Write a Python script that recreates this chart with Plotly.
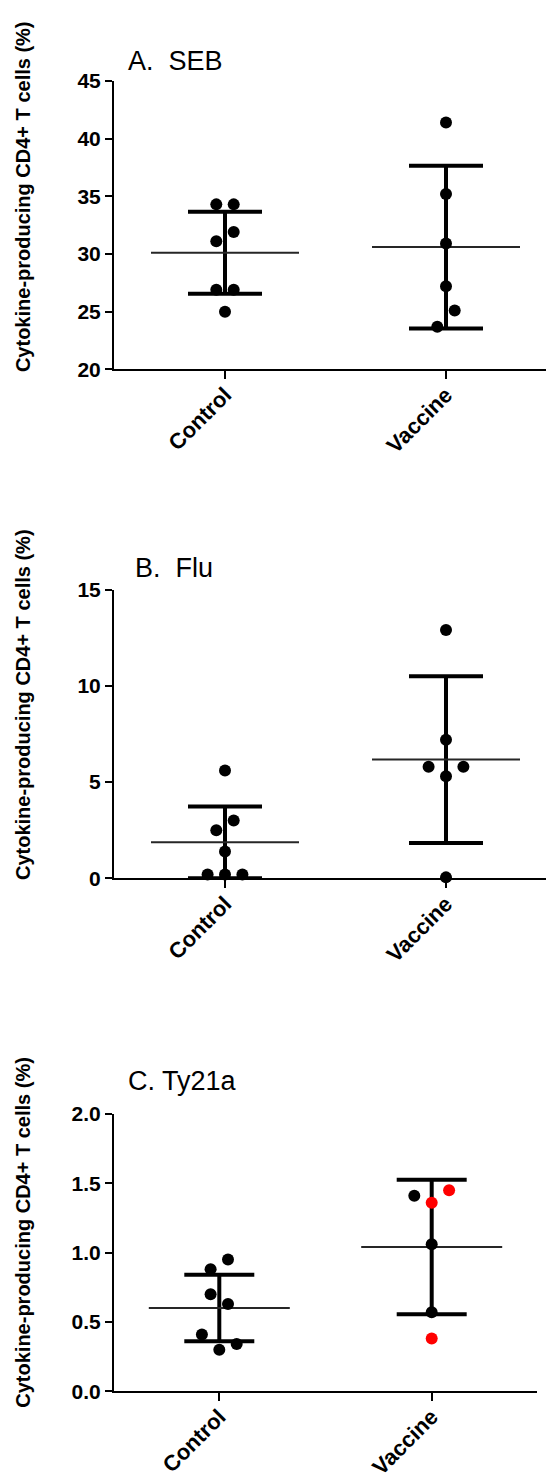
import plotly.graph_objects as go

W, H = 547, 1481

groups = ["Control", "Vaccine"]

# A. SEB
seb_control = [34.3, 34.3, 31.9, 31.1, 26.9, 26.9, 25.0]
seb_vaccine = [41.4, 35.2, 30.9, 27.2, 25.1, 23.7]
seb_mean = [30.1, 30.6]
seb_sd = [3.55, 7.05]

# B. Flu
flu_control = [5.6, 3.0, 2.5, 1.4, 0.2, 0.2, 0.2]
flu_vaccine = [12.9, 7.2, 5.8, 5.8, 5.3, 0.05]
flu_mean = [1.87, 6.17]
flu_sd = [1.86, 4.33]

# C. Ty21a
ty_control = [0.95, 0.88, 0.70, 0.63, 0.41, 0.34, 0.30]
ty_vaccine = [1.41, 1.45, 1.36, 1.06, 0.57, 0.38]
ty_vaccine_highlight = [False, True, True, False, False, True]
ty_mean = [0.60, 1.04]
ty_sd = [0.24, 0.485]

# horizontal scatter slots (in half-marker steps) so overlapping dots stay visible
seb_control_slot = [-1, 1, 1, -1, -1, 1, 0]
seb_vaccine_slot = [0, 0, 0, 0, 1, -1]
flu_control_slot = [0, 1, -1, 0, -2, 0, 2]
flu_vaccine_slot = [0, 0, -2, 2, 0, 0]
ty_control_slot = [1, -1, -1, 1, -2, 2, 0]
ty_vaccine_slot = [-2, 2, 0, 0, 0, 0]

FONT = "Liberation Sans, Arial, Helvetica, sans-serif"
SLOT_PX = 8.7
MARKER = 12
LINE_EW_SCALE = 1.4  # plotly draws 'line-ew' symbols 1.4x the marker size


def py(px):
    """pixel row (from top) -> paper fraction"""
    return 1 - px / H


panels = [
    dict(name="A.&nbsp; SEB", ctrl=seb_control, vacc=seb_vaccine, mean=seb_mean, sd=seb_sd,
         cs=seb_control_slot, vs=seb_vaccine_slot, vhl=None,
         yrange=[20, 45], ytick=[20, 25, 30, 35, 40, 45], yfmt="d",
         ypx=(363, 70), xaxis_px=(114, 546), cat_px=(225, 446),
         cap=37, meanlen=148, title_xy=(126, 50), ytitle_c=188),
    dict(name="B.&nbsp; Flu", ctrl=flu_control, vacc=flu_vaccine, mean=flu_mean, sd=flu_sd,
         cs=flu_control_slot, vs=flu_vaccine_slot, vhl=None,
         yrange=[0, 15], ytick=[0, 5, 10, 15], yfmt="d",
         ypx=(880, 586.7), xaxis_px=(114, 546), cat_px=(225, 446),
         cap=37, meanlen=148, title_xy=(133, 565), ytitle_c=704),
    dict(name="C. Ty21a", ctrl=ty_control, vacc=ty_vaccine, mean=ty_mean, sd=ty_sd,
         cs=ty_control_slot, vs=ty_vaccine_slot, vhl=ty_vaccine_highlight,
         yrange=[0, 2], ytick=[0, 0.5, 1.0, 1.5, 2.0], yfmt=".1f",
         ypx=(1401, 1119.3), xaxis_px=(114, 537), cat_px=(219.3, 431.7),
         cap=35, meanlen=141, title_xy=(126, 1086), ytitle_c=1240),
]

fig = go.Figure()
layout = dict(
    width=W, height=H, margin=dict(l=0, r=0, t=0, b=0),
    paper_bgcolor="white", plot_bgcolor="white", showlegend=False,
    font=dict(family=FONT, color="black"),
)
annotations = []

for i, p in enumerate(panels, start=1):
    xa = "x" if i == 1 else f"x{i}"
    ya = "y" if i == 1 else f"y{i}"
    c0, c1 = p["cat_px"]
    ppu = c1 - c0  # pixels per category unit
    x_lo = 1 - (c0 - p["xaxis_px"][0]) / ppu
    x_hi = 2 + (p["xaxis_px"][1] - c1) / ppu
    step = SLOT_PX / ppu

    # SD error bars
    fig.add_trace(go.Scatter(
        x=[1, 2], y=p["mean"], mode="markers", xaxis=xa, yaxis=ya,
        marker=dict(size=1, color="rgba(0,0,0,0)"),
        error_y=dict(type="data", array=p["sd"], visible=True,
                     thickness=4, width=p["cap"], color="black"),
        hoverinfo="skip", cliponaxis=False,
    ))
    # mean line
    fig.add_trace(go.Scatter(
        x=[1, 2], y=p["mean"], mode="markers", xaxis=xa, yaxis=ya,
        marker=dict(symbol="line-ew", size=p["meanlen"] / LINE_EW_SCALE, color="black",
                    line=dict(width=2, color="#262626")),
        hoverinfo="skip", cliponaxis=False,
    ))
    # individual subjects
    xc = [1 + s * step for s in p["cs"]]
    xv = [2 + s * step for s in p["vs"]]
    colors_v = ["red" if (p["vhl"] and p["vhl"][k]) else "black" for k in range(len(p["vacc"]))]
    fig.add_trace(go.Scatter(
        x=xc + xv, y=p["ctrl"] + p["vacc"], mode="markers", xaxis=xa, yaxis=ya,
        marker=dict(size=MARKER, color=["black"] * len(p["ctrl"]) + colors_v,
                    line=dict(width=0)),
        cliponaxis=False,
    ))

    xd = [p["xaxis_px"][0] / W, p["xaxis_px"][1] / W]
    yd = [py(p["ypx"][0]), py(p["ypx"][1])]
    layout["xaxis" if i == 1 else f"xaxis{i}"] = dict(
        domain=xd, anchor=ya, range=[x_lo, x_hi],
        tickvals=[1, 2], ticktext=groups, tickangle=-45,
        ticks="outside", ticklen=8, tickwidth=2, tickcolor="black",
        ticklabelstandoff=-6,
        showline=True, linewidth=2, linecolor="black",
        showgrid=False, zeroline=False,
        tickfont=dict(family=FONT, size=22, weight="bold", color="black"),
    )
    layout["yaxis" if i == 1 else f"yaxis{i}"] = dict(
        domain=yd, anchor=xa, range=p["yrange"],
        tickvals=p["ytick"], tickformat=p["yfmt"],
        ticks="outside", ticklen=7, tickwidth=2, tickcolor="black",
        showline=True, linewidth=2, linecolor="black",
        showgrid=False, zeroline=False,
        tickfont=dict(family=FONT, size=21, weight="bold", color="black"),
    )
    annotations.append(dict(
        text=p["name"], xref="paper", yref="paper",
        x=p["title_xy"][0] / W, y=py(p["title_xy"][1]),
        xanchor="left", yanchor="middle", showarrow=False,
        font=dict(family=FONT, size=27, color="black"),
    ))
    annotations.append(dict(
        text="Cytokine-producing CD4+ T cells (%)", xref="paper", yref="paper",
        x=23 / W, y=py(p["ytitle_c"]), xanchor="center", yanchor="middle",
        textangle=-90, showarrow=False,
        font=dict(family=FONT, size=20, weight="bold", color="black"),
    ))

layout["annotations"] = annotations
fig.update_layout(**layout)
fig.write_html("out.html")
